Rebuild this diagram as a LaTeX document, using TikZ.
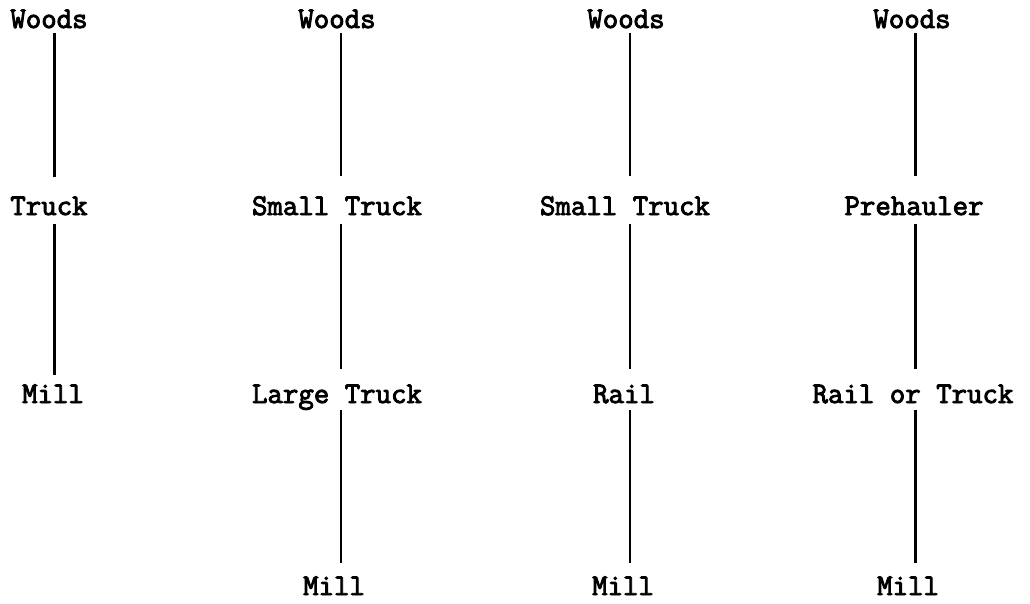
\documentclass[tikz,border=0pt]{standalone}
\usepackage{fontspec}
\newfontfamily\twfont{Latin Modern Mono}[FakeBold=3]
\usetikzlibrary{calc}
\tikzset{
  lbl/.style={anchor=base, inner sep=0pt, font=\twfont\fontsize{30}{34}\selectfont},
  link/.style={line width=2.4pt, line cap=butt},
}
\begin{document}
\begin{tikzpicture}[x=1pt,y=1pt]
\useasboundingbox (0,0) rectangle (1030,-604);
% column 1
\node[lbl] (w1) at (49,-28) {Woods};
\node[lbl] (t1) at (49,-215) {Truck};
\node[lbl] (m1) at (53,-403) {Mill};
\coordinate (k1) at (54.5,0);
% column 2
\node[lbl] (w2) at (337,-28) {Woods};
\node[lbl] (s2) at (337,-215) {Small Truck};
\node[lbl] (l2) at (337,-403) {Large Truck};
\node[lbl] (m2) at (334,-595) {Mill};
\coordinate (k2) at (341,0);
% column 3
\node[lbl] (w3) at (626,-28) {Woods};
\node[lbl] (s3) at (625,-215) {Small Truck};
\node[lbl] (r3) at (624,-403) {Rail};
\node[lbl] (m3) at (623,-595) {Mill};
\coordinate (k3) at (630,0);
% column 4
\node[lbl] (w4) at (912,-28) {Woods};
\node[lbl] (p4) at (914,-215) {Prehauler};
\node[lbl] (r4) at (913,-403) {Rail or Truck};
\node[lbl] (m4) at (908,-595) {Mill};
\coordinate (k4) at (915.5,0);
% connectors
\draw[link] ($(w1.base -| k1)+(0,-5)$) -- ($(t1.base -| k1)+(0,38)$);
\draw[link] ($(t1.base -| k1)+(0,-9)$) -- ($(m1.base -| k1)+(0,28)$);
\draw[link] ($(w2.base -| k2)+(0,-5)$) -- ($(s2.base -| k2)+(0,39)$);
\draw[link] ($(s2.base -| k2)+(0,-9)$) -- ($(l2.base -| k2)+(0,34)$);
\draw[link] ($(l2.base -| k2)+(0,-7)$) -- ($(m2.base -| k2)+(0,32)$);
\draw[link] ($(w3.base -| k3)+(0,-5)$) -- ($(s3.base -| k3)+(0,39)$);
\draw[link] ($(s3.base -| k3)+(0,-9)$) -- ($(r3.base -| k3)+(0,34)$);
\draw[link] ($(r3.base -| k3)+(0,-7)$) -- ($(m3.base -| k3)+(0,32)$);
\draw[link] ($(w4.base -| k4)+(0,-5)$) -- ($(p4.base -| k4)+(0,39)$);
\draw[link] ($(p4.base -| k4)+(0,-9)$) -- ($(r4.base -| k4)+(0,34)$);
\draw[link] ($(r4.base -| k4)+(0,-7)$) -- ($(m4.base -| k4)+(0,32)$);
\end{tikzpicture}
\end{document}
